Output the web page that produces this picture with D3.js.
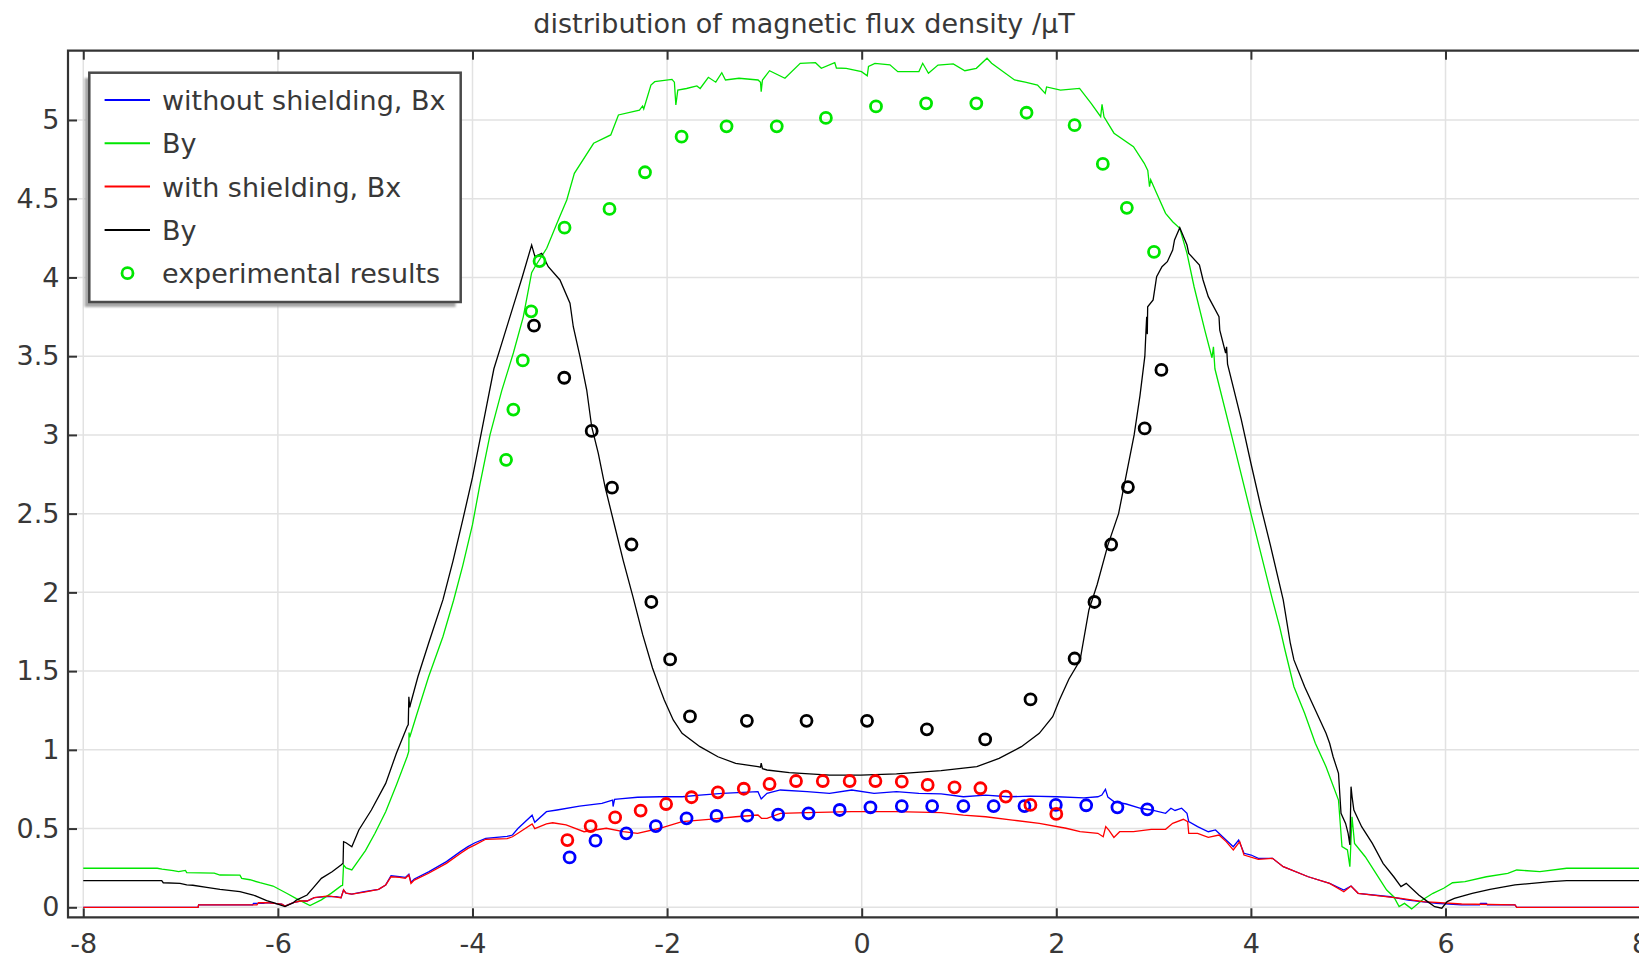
<!DOCTYPE html>
<html>
<head>
<meta charset="utf-8">
<script src="https://cdn.jsdelivr.net/npm/d3@7"></script>
<style>
  html, body { margin: 0; padding: 0; background: #fff; }
  svg { display: block; }
  text { font-family: "DejaVu Sans", sans-serif; fill: #383838; }
</style>
</head>
<body>
<svg id="chart" width="1639" height="961"></svg>
<script>
// ---- data: field along the measurement line (position, flux density in µT) ----
const bxWithout = [
  [-8.0,0],[-6.82,0],[-6.815,0.015],[-6.26,0.015],[-6.25,0.025],[-6.15,0.025],[-6.115,0.03],[-5.96,0.02],
  [-5.927,0.008],[-5.842,0.03],[-5.77,0.04],[-5.70,0.04],[-5.626,0.061],[-5.50,0.068],[-5.40,0.068],
  [-5.351,0.061],[-5.325,0.11],[-5.30,0.09],[-5.24,0.084],[-5.112,0.1],[-4.965,0.114],[-4.892,0.142],
  [-4.837,0.2],[-4.75,0.195],[-4.69,0.19],[-4.654,0.21],[-4.632,0.16],[-4.598,0.18],[-4.451,0.225],
  [-4.268,0.29],[-4.121,0.355],[-4.047,0.385],[-3.974,0.41],[-3.864,0.438],[-3.644,0.45],[-3.589,0.459],
  [-3.533,0.5],[-3.387,0.585],[-3.36,0.54],[-3.24,0.607],[-3.131,0.618],[-2.9,0.643],[-2.67,0.66],
  [-2.56,0.681],[-2.555,0.64],[-2.54,0.685],[-2.488,0.688],[-2.304,0.699],[-2.075,0.702],[-1.846,0.702],
  [-1.662,0.713],[-1.433,0.724],[-1.066,0.734],[-1.033,0.688],[-0.973,0.724],[-0.836,0.745],[-0.561,0.734],
  [-0.331,0.724],[-0.102,0.745],[0.127,0.724],[0.357,0.734],[0.587,0.724],[0.816,0.72],[1.045,0.702],
  [1.274,0.713],[1.504,0.702],[1.734,0.706],[2.008,0.702],[2.284,0.695],[2.427,0.702],[2.468,0.713],
  [2.505,0.749],[2.53,0.7],[2.592,0.671],[2.719,0.656],[2.866,0.629],[2.976,0.618],[3.123,0.597],
  [3.178,0.629],[3.22,0.615],[3.288,0.629],[3.343,0.597],[3.361,0.544],[3.452,0.512],[3.562,0.48],
  [3.636,0.491],[3.709,0.448],[3.819,0.385],[3.874,0.427],[3.929,0.343],[4.002,0.332],[4.076,0.311],
  [4.222,0.311],[4.332,0.258],[4.589,0.194],[4.809,0.152],[4.955,0.11],[5.029,0.135],[5.102,0.089],
  [5.432,0.067],[5.615,0.046],[5.908,0.025],[6.164,0.015],[6.35,0.015],[6.36,0.025],[6.42,0.025],
  [6.43,0.015],[6.714,0.015],[6.732,0],[8.0,0]
];

const byWithout = [
  [-8.0,0.248],[-7.24,0.248],[-7.19,0.242],[-7.075,0.233],[-7.02,0.227],[-6.95,0.234],[-6.937,0.22],
  [-6.654,0.217],[-6.595,0.205],[-6.39,0.204],[-6.372,0.184],[-6.287,0.175],[-6.184,0.156],[-6.05,0.135],
  [-5.91,0.089],[-5.81,0.055],[-5.67,0.011],[-5.553,0.047],[-5.45,0.09],[-5.351,0.136],[-5.335,0.14],
  [-5.325,0.269],[-5.30,0.25],[-5.24,0.237],[-5.1,0.36],[-5.002,0.47],[-4.892,0.607],[-4.78,0.78],
  [-4.672,0.956],[-4.655,0.99],[-4.652,1.11],[-4.645,1.08],[-4.58,1.21],[-4.451,1.464],[-4.304,1.718],
  [-4.194,1.95],[-4.1,2.17],[-4.0,2.43],[-3.922,2.69],[-3.82,3.0],[-3.7,3.28],[-3.58,3.52],[-3.478,3.75],
  [-3.392,4.03],[-3.358,4.068],[-3.237,4.185],[-3.118,4.365],[-3.031,4.492],[-2.953,4.661],[-2.755,4.852],
  [-2.579,4.905],[-2.5,5.032],[-2.284,5.063],[-2.252,5.089],[-2.24,5.07],[-2.166,5.222],[-2.127,5.243],
  [-1.95,5.258],[-1.925,5.24],[-1.91,5.095],[-1.89,5.19],[-1.80,5.2],[-1.694,5.216],[-1.66,5.2],
  [-1.576,5.271],[-1.5,5.24],[-1.438,5.30],[-1.4,5.254],[-1.261,5.265],[-1.065,5.254],[-1.04,5.24],
  [-1.033,5.18],[-1.02,5.254],[-0.947,5.313],[-0.789,5.265],[-0.632,5.36],[-0.475,5.364],[-0.415,5.328],
  [-0.277,5.364],[-0.26,5.33],[-0.159,5.328],[-0.002,5.307],[0.057,5.28],[0.07,5.34],[0.136,5.36],
  [0.29,5.35],[0.371,5.307],[0.588,5.307],[0.627,5.36],[0.686,5.297],[0.784,5.349],[0.941,5.356],
  [1.06,5.313],[1.178,5.328],[1.288,5.392],[1.335,5.36],[1.571,5.254],[1.68,5.24],[1.807,5.222],
  [1.886,5.169],[1.90,5.21],[2.043,5.19],[2.239,5.201],[2.358,5.106],[2.456,5.021],[2.47,5.10],
  [2.49,5.02],[2.593,4.916],[2.793,4.83],[2.904,4.725],[2.94,4.68],[2.958,4.576],[2.97,4.62],
  [3.031,4.534],[3.123,4.407],[3.196,4.354],[3.269,4.312],[3.343,4.153],[3.416,3.941],[3.526,3.666],
  [3.6,3.49],[3.615,3.56],[3.63,3.42],[3.8,3.0],[4.0,2.5],[4.222,1.952],[4.295,1.782],[4.35,1.634],
  [4.442,1.401],[4.552,1.232],[4.662,1.042],[4.772,0.893],[4.9,0.681],[4.936,0.385],[4.992,0.364],
  [5.017,0.258],[5.039,0.575],[5.065,0.406],[5.175,0.321],[5.285,0.216],[5.395,0.11],[5.468,0.067],
  [5.523,0.004],[5.578,0.025],[5.652,-0.01],[5.761,0.046],[5.871,0.089],[5.981,0.121],[6.072,0.156],
  [6.2,0.163],[6.42,0.194],[6.64,0.216],[6.732,0.237],[6.97,0.226],[7.245,0.248],[8.0,0.248]
];

const bxWith = [
  [-8.0,0],[-6.82,0],[-6.815,0.015],[-6.215,0.015],[-6.2,0.029],[-6.115,0.03],[-5.96,0.02],[-5.927,0.008],
  [-5.842,0.03],[-5.77,0.04],[-5.70,0.04],[-5.626,0.061],[-5.479,0.072],[-5.40,0.065],[-5.351,0.061],
  [-5.325,0.11],[-5.30,0.09],[-5.24,0.084],[-5.112,0.097],[-4.965,0.114],[-4.892,0.142],[-4.837,0.194],
  [-4.75,0.19],[-4.69,0.184],[-4.654,0.205],[-4.632,0.152],[-4.598,0.173],[-4.451,0.216],[-4.268,0.279],
  [-4.121,0.343],[-4.047,0.374],[-3.974,0.396],[-3.864,0.432],[-3.644,0.436],[-3.589,0.448],[-3.533,0.47],
  [-3.387,0.53],[-3.36,0.50],[-3.24,0.53],[-3.176,0.537],[-3.038,0.523],[-2.854,0.48],[-2.625,0.502],
  [-2.45,0.48],[-2.304,0.47],[-2.075,0.502],[-1.846,0.544],[-1.57,0.559],[-1.295,0.575],[-1.066,0.586],
  [-1.03,0.565],[-0.973,0.565],[-0.836,0.597],[-0.561,0.601],[-0.102,0.607],[0.357,0.607],[0.816,0.601],
  [1.045,0.586],[1.274,0.575],[1.55,0.554],[1.825,0.533],[2.1,0.502],[2.244,0.48],[2.427,0.47],
  [2.482,0.448],[2.508,0.512],[2.54,0.49],[2.592,0.444],[2.651,0.48],[2.793,0.48],[2.976,0.495],
  [3.123,0.495],[3.196,0.533],[3.306,0.559],[3.35,0.544],[3.361,0.47],[3.452,0.47],[3.562,0.444],
  [3.672,0.459],[3.746,0.417],[3.819,0.364],[3.885,0.417],[3.929,0.332],[4.076,0.305],[4.222,0.311],
  [4.332,0.258],[4.589,0.194],[4.809,0.152],[4.955,0.099],[5.029,0.135],[5.102,0.089],[5.32,0.072],
  [5.542,0.057],[5.77,0.036],[6.166,0.021],[6.714,0.015],[6.732,0],[8.0,0]
];

const byWith = [
  [-8.0,0.169],[-7.194,0.169],[-7.178,0.156],[-7.006,0.152],[-6.937,0.142],[-6.874,0.14],[-6.732,0.127],
  [-6.595,0.114],[-6.39,0.099],[-6.253,0.078],[-6.115,0.042],[-6.047,0.029],[-5.927,0.004],[-5.842,0.029],
  [-5.81,0.046],[-5.70,0.078],[-5.626,0.131],[-5.553,0.184],[-5.443,0.226],[-5.351,0.269],[-5.33,0.28],
  [-5.325,0.417],[-5.30,0.41],[-5.24,0.385],[-5.168,0.491],[-5.039,0.618],[-4.892,0.787],[-4.782,0.978],
  [-4.672,1.147],[-4.66,1.16],[-4.654,1.337],[-4.645,1.27],[-4.635,1.296],[-4.561,1.464],[-4.451,1.677],
  [-4.304,1.952],[-4.2,2.2],[-4.1,2.46],[-4.0,2.73],[-3.92,2.98],[-3.85,3.2],[-3.78,3.42],[-3.7,3.58],
  [-3.62,3.74],[-3.55,3.88],[-3.49,4.0],[-3.392,4.206],[-3.358,4.132],[-3.289,4.153],
  [-3.221,4.068],[-3.101,3.984],[-2.998,3.836],[-2.964,3.687],[-2.895,3.497],[-2.826,3.285],[-2.775,3.052],
  [-2.707,2.883],[-2.638,2.671],[-2.55,2.45],[-2.45,2.2],[-2.35,1.97],[-2.25,1.73],[-2.15,1.52],
  [-2.08,1.40],[-2.029,1.317],[-1.937,1.19],[-1.846,1.105],[-1.662,1.02],[-1.478,0.956],[-1.295,0.914],
  [-1.066,0.893],[-1.04,0.89],[-1.033,0.915],[-1.02,0.88],[-0.973,0.872],[-0.744,0.855],[-0.331,0.84],
  [-0.01,0.84],[0.357,0.847],[0.816,0.868],[1.183,0.893],[1.412,0.946],[1.641,1.02],[1.825,1.105],
  [1.963,1.21],[2.032,1.317],[2.13,1.45],[2.244,1.569],[2.335,1.888],[2.42,2.05],[2.53,2.3],[2.64,2.5],
  [2.72,2.75],[2.80,3.0],[2.86,3.25],[2.91,3.5],[2.922,3.666],[2.929,3.75],[2.935,3.64],[2.939,3.814],
  [2.995,3.857],[3.031,4.005],[3.086,4.068],[3.141,4.1],[3.196,4.174],[3.215,4.238],[3.269,4.316],
  [3.343,4.206],[3.361,4.153],[3.471,4.079],[3.508,3.984],[3.562,3.878],[3.672,3.751],[3.68,3.666],
  [3.74,3.52],[3.75,3.56],[3.76,3.45],[3.9,3.1],[4.0,2.82],[4.1,2.55],[4.2,2.3],[4.332,1.952],
  [4.405,1.677],[4.442,1.571],[4.552,1.401],[4.662,1.253],[4.772,1.105],[4.809,1.042],[4.845,0.956],
  [4.9,0.851],[4.926,0.597],[4.973,0.533],[4.999,0.47],[5.017,0.396],[5.029,0.766],[5.04,0.7],
  [5.058,0.618],[5.138,0.512],[5.248,0.406],[5.358,0.279],[5.468,0.194],[5.542,0.131],[5.596,0.152],
  [5.725,0.078],[5.816,0.036],[5.889,0.004],[5.962,-0.006],[6.017,0.036],[6.091,0.057],[6.274,0.089],
  [6.457,0.114],[6.714,0.142],[7.08,0.163],[7.245,0.169],[8.0,0.169]
];

// ---- measured points ----
const expByWithoutX = [-3.655,-3.58,-3.483,-3.397,-3.311,-3.054,-2.592,-2.227,-1.851,-1.389,-0.873,-0.368,0.147,0.662,1.178,1.694,2.188,2.478,2.725,3.004];
const expByWithoutY = [2.842,3.161,3.473,3.785,4.104,4.316,4.435,4.668,4.894,4.960,4.960,5.013,5.086,5.106,5.106,5.046,4.967,4.721,4.442,4.163];

const expByWithX = [-3.368,-3.057,-2.775,-2.566,-2.366,-2.162,-1.969,-1.765,-1.18,-0.567,0.055,0.67,1.269,1.735,2.188,2.392,2.564,2.736,2.908,3.08];
const expByWithY = [3.694,3.363,3.025,2.665,2.304,1.939,1.574,1.212,1.184,1.184,1.184,1.13,1.066,1.32,1.58,1.939,2.304,2.669,3.041,3.413];

const expBxWithX = [-3.025,-2.786,-2.534,-2.272,-2.010,-1.749,-1.478,-1.212,-0.947,-0.675,-0.4,-0.124,0.141,0.412,0.678,0.954,1.22,1.481,1.734,2.0];
const expBxWithY = [0.427,0.516,0.571,0.614,0.656,0.699,0.73,0.753,0.783,0.802,0.802,0.802,0.802,0.798,0.777,0.762,0.756,0.703,0.650,0.593];

const expBxWithoutX = [-3.002,-2.736,-2.419,-2.116,-1.8,-1.492,-1.176,-0.859,-0.547,-0.226,0.09,0.412,0.724,1.045,1.356,1.673,1.995,2.307,2.628,2.935];
const expBxWithoutY = [0.317,0.423,0.47,0.516,0.565,0.58,0.582,0.588,0.597,0.618,0.635,0.643,0.643,0.643,0.643,0.643,0.65,0.648,0.635,0.622];

// ---- axes ticks and labels ----
const xTicks = [-8,-6,-4,-2,0,2,4,6,8];
const yTicks = [0,0.5,1,1.5,2,2.5,3,3.5,4,4.5,5];
const titleText = "distribution of magnetic flux density /µT";
const legendLabels = ["without shielding, Bx","By","with shielding, Bx","By","experimental results"];
const seriesColors = ["#0000ff","#00e600","#ff0000","#000000"];

// ---- layout ----
const svg = d3.select("#chart");
const plot = { left: 68, top: 50.7, right: 1655.4, bottom: 917.3 };
const x = d3.scaleLinear().domain([-8.157, 8.157]).range([plot.left, plot.right]);
const y = d3.scaleLinear().domain([-0.0635, 5.44]).range([plot.bottom, plot.top]);

svg.append("rect").attr("width",1639).attr("height",961).attr("fill","#fff");

const defs = svg.append("defs");
defs.append("clipPath").attr("id","plotClip")
  .append("rect").attr("x",plot.left).attr("y",plot.top)
  .attr("width",plot.right-plot.left).attr("height",plot.bottom-plot.top);
defs.append("filter").attr("id","shadowBlur").attr("x","-10%").attr("y","-10%").attr("width","120%").attr("height","120%")
  .append("feGaussianBlur").attr("stdDeviation",1.2);

// grid
const grid = svg.append("g").attr("stroke","#e2e2e2").attr("stroke-width",1.5);
grid.selectAll("line.gx").data(xTicks).join("line")
  .attr("x1",d=>x(d)).attr("x2",d=>x(d)).attr("y1",plot.top).attr("y2",plot.bottom);
grid.selectAll("line.gy").data(yTicks).join("line")
  .attr("y1",d=>y(d)).attr("y2",d=>y(d)).attr("x1",plot.left).attr("x2",plot.right);

// curves
const line = d3.line().x(d=>x(d[0])).y(d=>y(d[1]));
const curves = svg.append("g").attr("clip-path","url(#plotClip)").attr("fill","none")
  .attr("stroke-width",1.3).attr("stroke-linejoin","miter");
[bxWithout, byWithout, bxWith, byWith].forEach((s,i)=>{
  curves.append("path").datum(s).attr("d",line).attr("stroke",seriesColors[i]);
});

// measured points
const pts = svg.append("g").attr("clip-path","url(#plotClip)").attr("fill","none").attr("stroke-width",2.8);
function drawPoints(xs, ys, color){
  pts.append("g").attr("stroke",color).selectAll("circle").data(xs).join("circle")
    .attr("cx",d=>x(d)).attr("cy",(d,i)=>y(ys[i])).attr("r",5.5);
}
drawPoints(expByWithoutX, expByWithoutY, "#00e600");
drawPoints(expByWithX, expByWithY, "#000000");
drawPoints(expBxWithoutX, expBxWithoutY, "#0000ff");
drawPoints(expBxWithX, expBxWithY, "#ff0000");

// axes (inward ticks); plain hyphen for negative numbers
const fmt = d => String(d);
const axisColor = "#333";
const xAxisB = svg.append("g").attr("transform",`translate(0,${plot.bottom})`)
  .call(d3.axisBottom(x).tickValues(xTicks).tickSize(-9).tickSizeOuter(0).tickPadding(16.5).tickFormat(fmt));
const xAxisT = svg.append("g").attr("transform",`translate(0,${plot.top})`)
  .call(d3.axisTop(x).tickValues(xTicks).tickSize(-9).tickSizeOuter(0).tickFormat(""));
const yAxisL = svg.append("g").attr("transform",`translate(${plot.left},0)`)
  .call(d3.axisLeft(y).tickValues(yTicks).tickSize(-9).tickSizeOuter(0).tickPadding(8.5).tickFormat(fmt));
[xAxisB, xAxisT, yAxisL].forEach(g=>{
  g.select(".domain").remove();
  g.selectAll(".tick line").attr("stroke",axisColor).attr("stroke-width",2);
  g.selectAll(".tick text").attr("font-size",27).attr("font-family","DejaVu Sans").attr("fill","#383838");
});
xAxisB.selectAll(".tick text").attr("text-anchor","middle");

// frame
svg.append("path")
  .attr("d",`M${plot.right},${plot.top}H${plot.left}V${plot.bottom}H${plot.right}`)
  .attr("fill","none").attr("stroke",axisColor).attr("stroke-width",2.2);

// title
svg.append("text").attr("x",804).attr("y",32.5).attr("text-anchor","middle")
  .attr("font-size",27).text(titleText);

// legend
const lg = svg.append("g");
lg.append("rect").attr("x",84.6).attr("y",78).attr("width",371).attr("height",229)
  .attr("fill","#a6a6a6").attr("filter","url(#shadowBlur)");
lg.append("rect").attr("x",89.3).attr("y",72.7).attr("width",371.4).attr("height",229.3)
  .attr("fill","#fff").attr("stroke","#4a4a4a").attr("stroke-width",2.5);
const rowY = i => 100 + i*43.3;
legendLabels.forEach((lab,i)=>{
  if (i < 4) {
    lg.append("line").attr("x1",104.6).attr("x2",150).attr("y1",rowY(i)).attr("y2",rowY(i))
      .attr("stroke",seriesColors[i]).attr("stroke-width",2);
  } else {
    lg.append("circle").attr("cx",127.5).attr("cy",rowY(i)).attr("r",5.5)
      .attr("fill","none").attr("stroke","#00e600").attr("stroke-width",2.8);
  }
  lg.append("text").attr("x",162).attr("y",rowY(i)+10).attr("font-size",27).text(lab);
});
</script>
</body>
</html>
